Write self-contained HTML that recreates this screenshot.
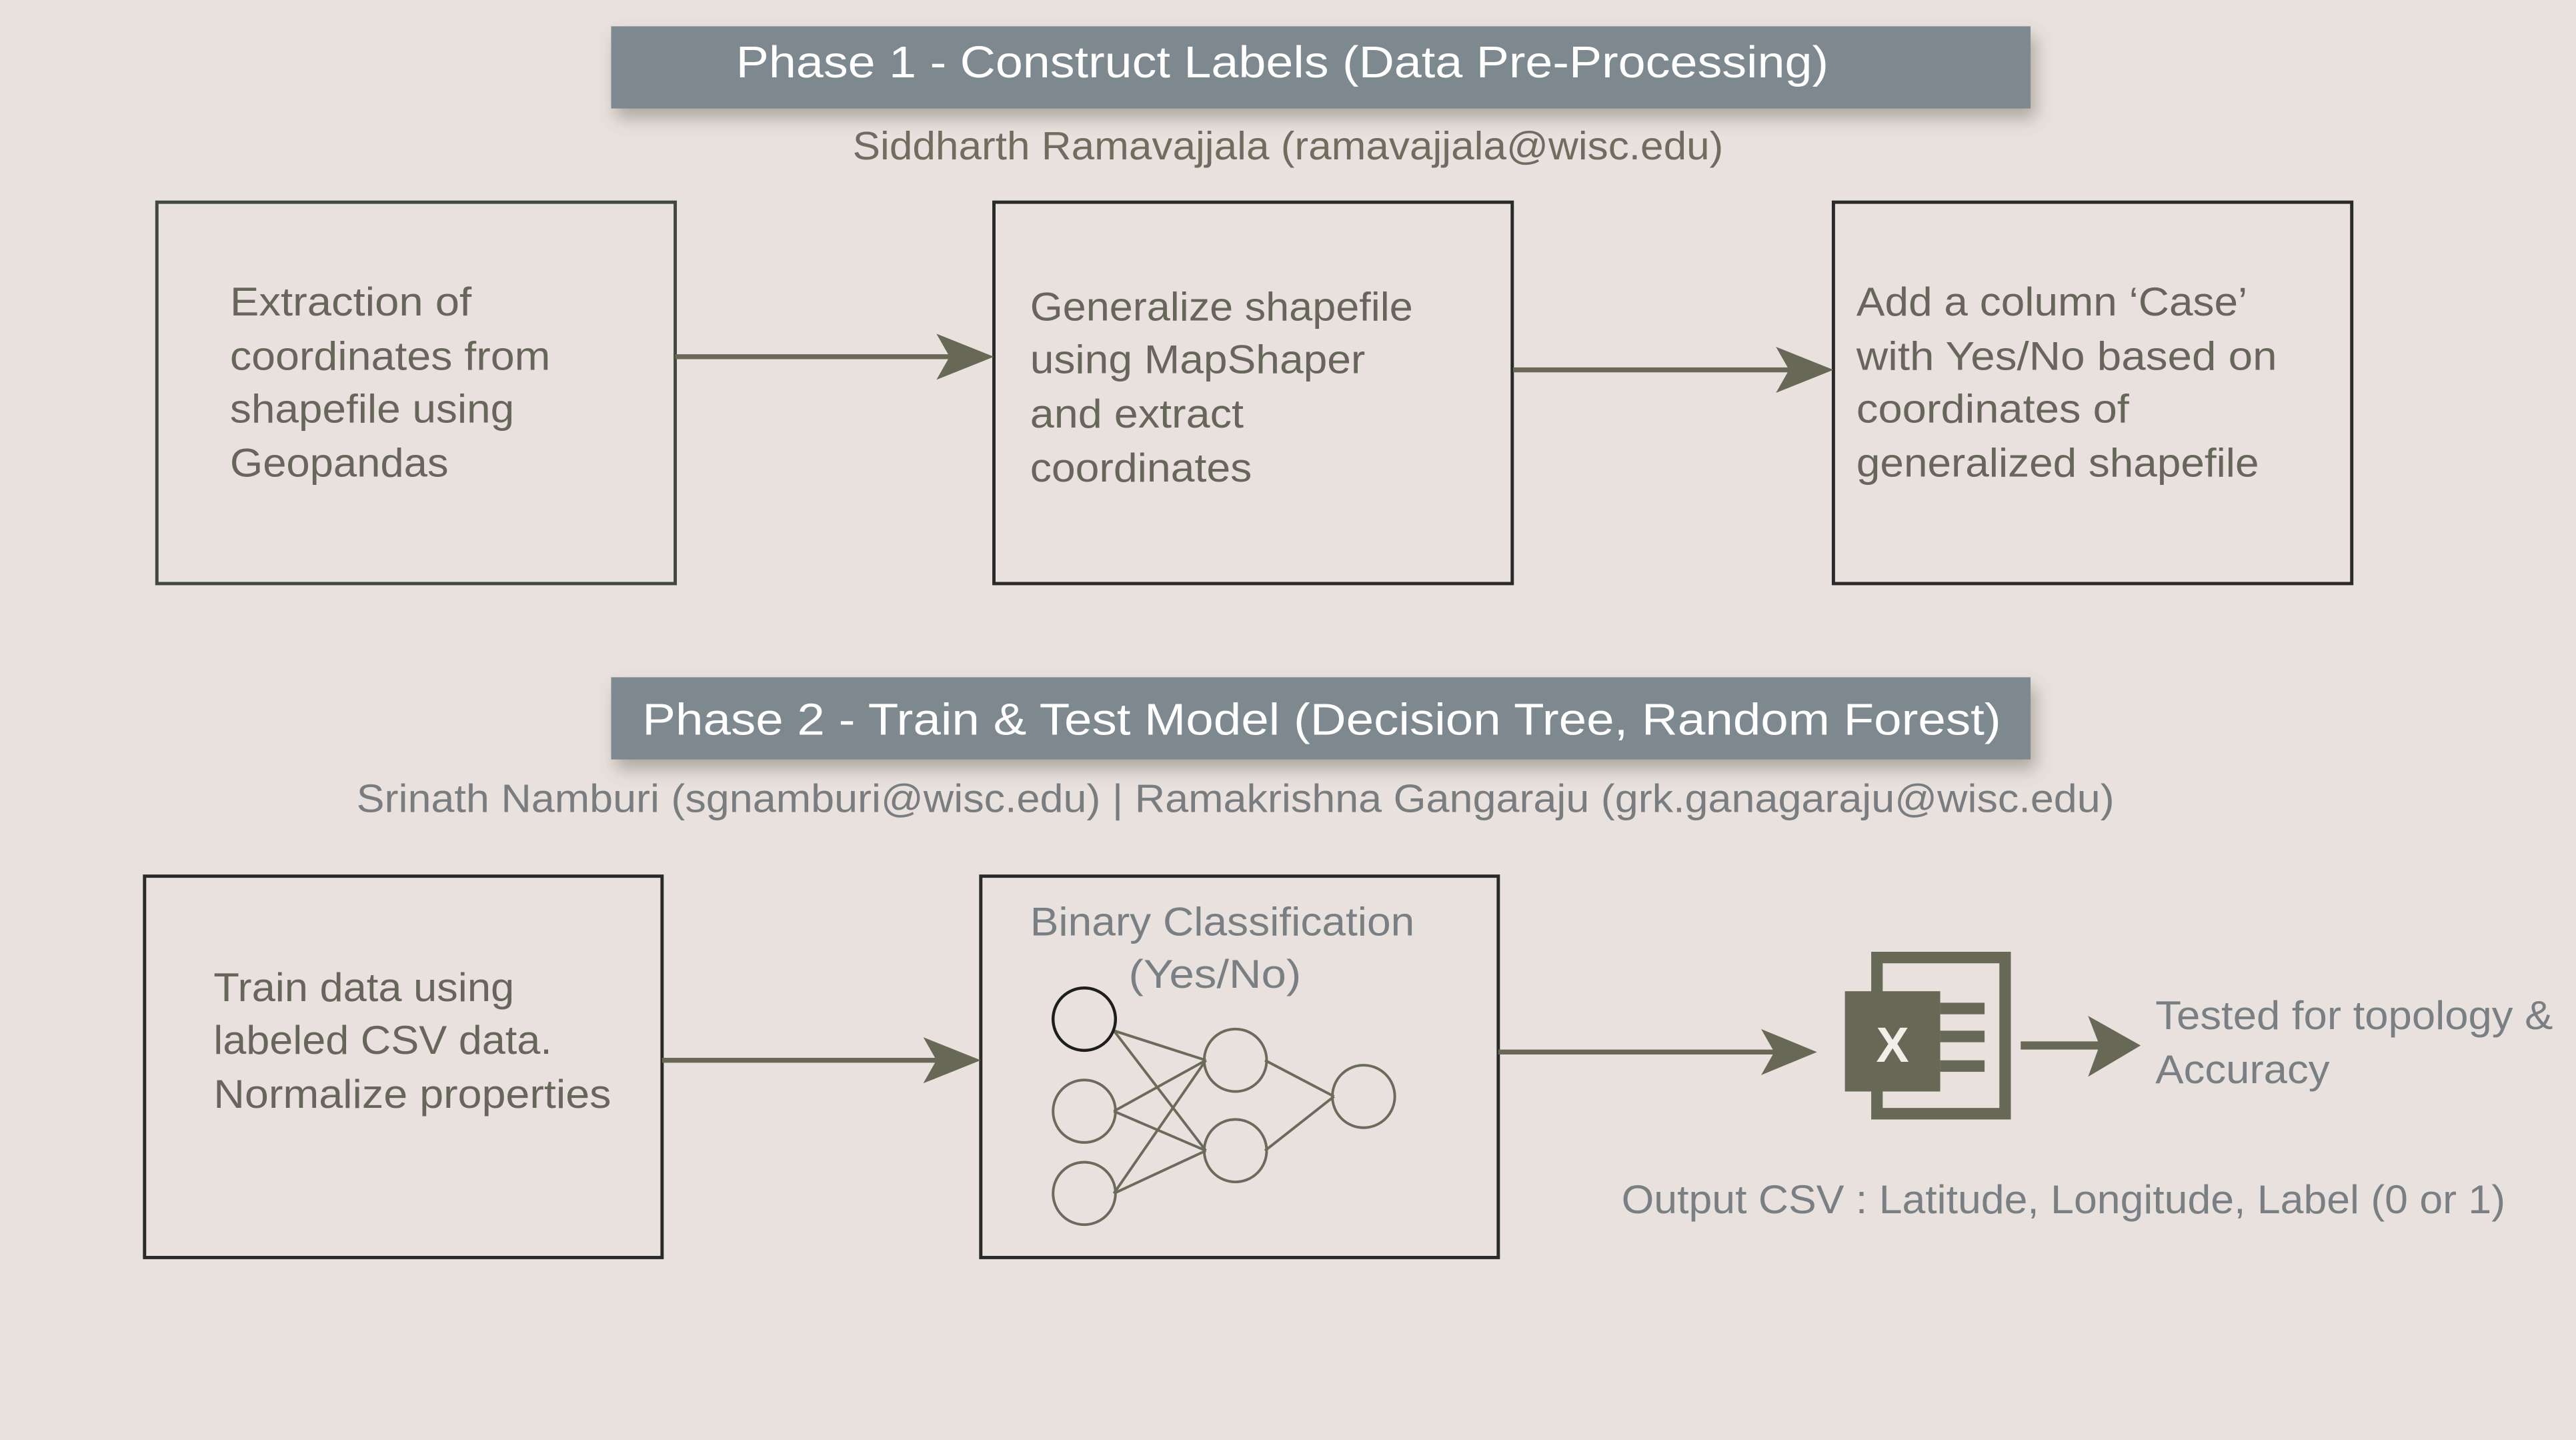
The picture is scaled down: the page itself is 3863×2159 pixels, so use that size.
<!DOCTYPE html>
<html><head><meta charset="utf-8"><style>
html,body{margin:0;padding:0;background:#e8e1dd;}
svg{display:block;}
text{font-family:"Liberation Sans",sans-serif;}
</style></head><body>
<svg width="3863" height="2159" viewBox="0 0 1568 876" preserveAspectRatio="none" xmlns="http://www.w3.org/2000/svg">
<defs>
<filter id="sh" x="-10%" y="-50%" width="120%" height="250%">
<feDropShadow dx="3" dy="6" stdDeviation="5" flood-color="#6b6258" flood-opacity="0.45"/>
</filter>
</defs>
<rect width="1568" height="876" fill="#e8e1dd"/>

<!-- Phase 1 -->
<rect x="372" y="16" width="864" height="50" fill="#7e898f" filter="url(#sh)"/>
<text x="448" y="47" font-size="27" fill="#fff" textLength="665" lengthAdjust="spacingAndGlyphs">Phase 1 - Construct Labels (Data Pre-Processing)</text>
<text x="519" y="97" font-size="24" fill="#6e6d60" textLength="530" lengthAdjust="spacingAndGlyphs">Siddharth Ramavajjala (ramavajjala@wisc.edu)</text>

<g fill="none" stroke-width="2">
<rect x="95.5" y="123" width="315.5" height="232" stroke="#3f4a3c"/>
<rect x="605" y="123" width="315.5" height="232" stroke="#2a2a2a"/>
<rect x="1116" y="123" width="315.5" height="232" stroke="#2a2a2a"/>
<rect x="88" y="533" width="315" height="232" stroke="#2a2a2a"/>
<rect x="597" y="533" width="315" height="232" stroke="#2a2a2a"/>
</g>

<g font-size="24.5" fill="#66665a" lengthAdjust="spacingAndGlyphs">
<text x="140" y="192" textLength="147" lengthAdjust="spacingAndGlyphs">Extraction of</text>
<text x="140" y="225" textLength="195" lengthAdjust="spacingAndGlyphs">coordinates from</text>
<text x="140" y="257" textLength="173" lengthAdjust="spacingAndGlyphs">shapefile using</text>
<text x="140" y="290" textLength="133" lengthAdjust="spacingAndGlyphs">Geopandas</text>
<text x="627" y="195" textLength="233" lengthAdjust="spacingAndGlyphs">Generalize shapefile</text>
<text x="627" y="227" textLength="204" lengthAdjust="spacingAndGlyphs">using MapShaper</text>
<text x="627" y="260" textLength="130" lengthAdjust="spacingAndGlyphs">and extract</text>
<text x="627" y="293" textLength="135" lengthAdjust="spacingAndGlyphs">coordinates</text>
<text x="1130" y="192" textLength="238" lengthAdjust="spacingAndGlyphs">Add a column ‘Case’</text>
<text x="1130" y="225" textLength="256" lengthAdjust="spacingAndGlyphs">with Yes/No based on</text>
<text x="1130" y="257" textLength="166" lengthAdjust="spacingAndGlyphs">coordinates of</text>
<text x="1130" y="290" textLength="245" lengthAdjust="spacingAndGlyphs">generalized shapefile</text>
<text x="130" y="609" textLength="183" lengthAdjust="spacingAndGlyphs">Train data using</text>
<text x="130" y="641" textLength="206" lengthAdjust="spacingAndGlyphs">labeled CSV data.</text>
<text x="130" y="674" textLength="242" lengthAdjust="spacingAndGlyphs">Normalize properties</text>
</g>

<!-- arrows -->
<g fill="#676856" stroke="#676856">
<line x1="411" y1="217" x2="595" y2="217" stroke-width="3"/>
<polygon points="570,203 605,217 570,231 578,217" stroke="none"/>
<line x1="921" y1="225" x2="1106" y2="225" stroke-width="3"/>
<polygon points="1081,211 1116,225 1081,239 1089,225" stroke="none"/>
<line x1="403" y1="645" x2="587" y2="645" stroke-width="3"/>
<polygon points="562,631 597,645 562,659 570,645" stroke="none"/>
<line x1="912" y1="640" x2="1096" y2="640" stroke-width="3"/>
<polygon points="1072,626 1106,640 1072,654 1080,640" stroke="none"/>
<line x1="1230" y1="636" x2="1292" y2="636" stroke-width="5"/>
<polygon points="1271,618 1303,636 1271,655 1278,636" stroke="none"/>
</g>

<!-- Phase 2 -->
<rect x="372" y="412" width="864" height="50" fill="#7e898f" filter="url(#sh)"/>
<text x="391" y="447" font-size="27" fill="#fff" textLength="827" lengthAdjust="spacingAndGlyphs">Phase 2 - Train &amp; Test Model  (Decision Tree, Random Forest)</text>
<text x="217" y="494" font-size="24" fill="#7a7d80" textLength="1070" lengthAdjust="spacingAndGlyphs">Srinath Namburi (sgnamburi@wisc.edu) | Ramakrishna Gangaraju (grk.ganagaraju@wisc.edu)</text>

<text x="627" y="569" font-size="24.5" fill="#7a7f84" textLength="234" lengthAdjust="spacingAndGlyphs">Binary Classification</text>
<text x="687" y="601" font-size="24.5" fill="#7a7f84" textLength="105" lengthAdjust="spacingAndGlyphs">(Yes/No)</text>

<!-- NN -->
<g stroke="#6b6b5c" stroke-width="1.6" fill="none">
<line x1="678" y1="627" x2="734" y2="645"/>
<line x1="678" y1="627" x2="734" y2="700"/>
<line x1="678" y1="676" x2="734" y2="645"/>
<line x1="678" y1="676" x2="734" y2="700"/>
<line x1="678" y1="726" x2="734" y2="645"/>
<line x1="678" y1="726" x2="734" y2="700"/>
<line x1="770" y1="645" x2="812" y2="667"/>
<line x1="770" y1="700" x2="812" y2="667"/>
<circle cx="660" cy="676" r="19"/>
<circle cx="660" cy="726" r="19"/>
<circle cx="752" cy="645" r="19"/>
<circle cx="752" cy="700" r="19"/>
<circle cx="830" cy="667" r="19"/>
</g>
<circle cx="660" cy="620" r="19" fill="none" stroke="#1e1e1e" stroke-width="1.8"/>

<!-- Excel icon -->
<rect x="1142.5" y="582.5" width="78" height="95" fill="none" stroke="#676856" stroke-width="7"/>
<rect x="1123" y="603" width="58" height="61" fill="#676856"/>
<rect x="1181" y="610" width="27" height="7" fill="#676856"/>
<rect x="1181" y="627" width="27" height="7" fill="#676856"/>
<rect x="1181" y="645" width="27" height="7" fill="#676856"/>
<text x="1152" y="646" font-size="30" font-weight="bold" fill="#f2efea" text-anchor="middle">X</text>

<g font-size="24.5" fill="#7a7f84">
<text x="1312" y="626" textLength="242" lengthAdjust="spacingAndGlyphs">Tested for topology &amp;</text>
<text x="1312" y="659" textLength="106" lengthAdjust="spacingAndGlyphs">Accuracy</text>
<text x="987" y="738" textLength="538" lengthAdjust="spacingAndGlyphs">Output CSV : Latitude, Longitude, Label (0 or 1)</text>
</g>
</svg>
</body></html>
